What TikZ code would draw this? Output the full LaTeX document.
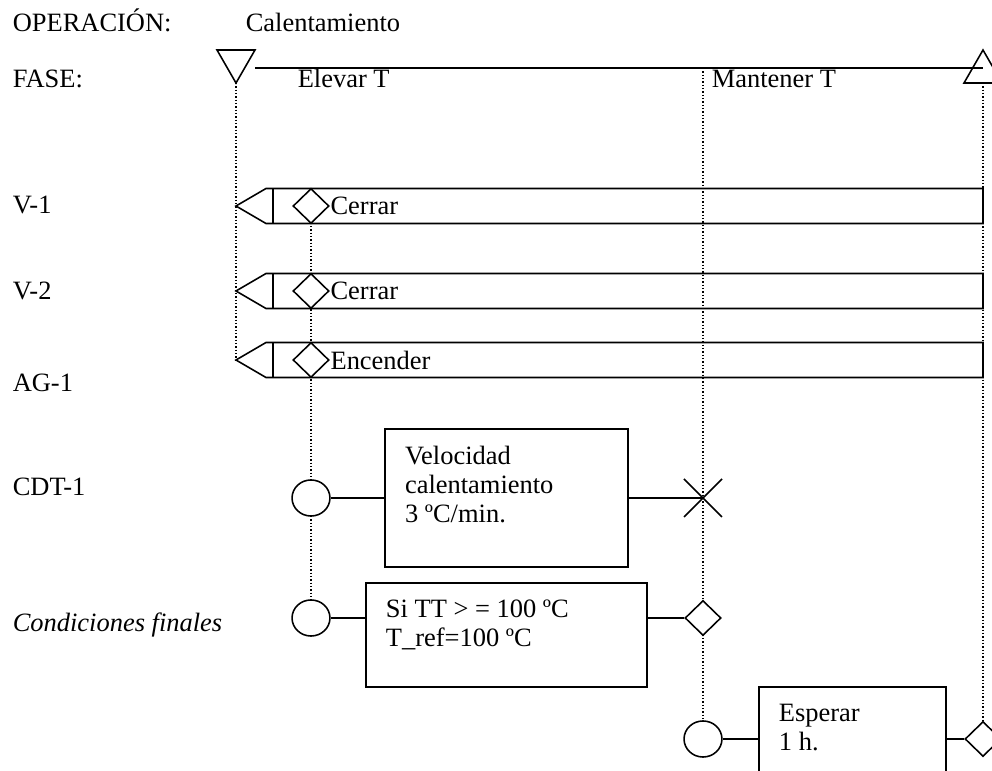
\documentclass[tikz,border=0pt]{standalone}
\usepackage{fontspec}
\setmainfont{Liberation Serif}
\usetikzlibrary{shapes.geometric}
\begin{document}
\begin{tikzpicture}[x=0.48pt,y=-0.48pt,line width=0.75pt,
  font=\fontsize{12.7}{14}\selectfont,
  guide/.style={densely dotted,line width=0.6pt},
  lbl/.style={anchor=base west,inner sep=0pt},
  cond/.style={diamond,draw,fill=white,inner sep=0pt,minimum width=17.3pt,minimum height=16.8pt},
  start/.style={ellipse,draw,fill=white,inner sep=0pt,minimum width=18.2pt,minimum height=17.3pt},
  actbox/.style={draw,rectangle,inner sep=0pt},
  txt/.style={anchor=north west,inner sep=0pt,align=left}]
\clip (0,0) rectangle (992,771);

\node[lbl] at (12,32) {OPERACIÓN:};
\node[lbl] at (245,32) {Calentamiento};
\node[lbl] at (12,88) {FASE:};
\node[lbl] at (297,88) {Elevar T};
\node[lbl] at (711,88) {Mantener T};
\node[lbl] at (12,214) {V-1};
\node[lbl] at (12,300) {V-2};
\node[lbl] at (12,392) {AG-1};
\node[lbl] at (12,496) {CDT-1};
\node[lbl] at (12,632) {\itshape Condiciones finales};

\coordinate (tl) at (236,83);
\coordinate (tr) at (983,83);
\coordinate (ph) at (703,68);
\draw[guide] (tl) -- (236,360);
\draw[guide] (311,206) -- (311,618);
\draw[guide] (ph) -- (703,739);
\draw[guide] (tr) -- (983,739);

\draw (217,50) -- (255,50) -- (tl) -- cycle;
\draw (964,83) -- (1002,83) -- (983,50) -- cycle;
\draw (255,68) -- (983,68);

\foreach \y/\n/\t in {206/a/Cerrar,291/b/Cerrar,360/c/Encender}{
  \draw (236,\y) -- (266,\y-17.5) -- (983,\y-17.5) -- (983,\y+17.5) -- (266,\y+17.5) -- cycle;
  \draw (273,\y-17.5) -- (273,\y+17.5);
  \node[cond] (d\n) at (311,\y) {};
  \node[anchor=west,inner sep=0pt] at (d\n.east) {\t};
}

\node[start] (s1) at (311,498) {};
\node[actbox,minimum width=116.6pt,minimum height=66.2pt] (sbox) at (506.5,498) {};
\node[txt] at ([shift={(20,17)}]sbox.north west) {Velocidad\\calentamiento\\3 ºC/min.};
\coordinate (x1) at (703,498);
\draw (s1) -- (sbox);
\draw (sbox.east) -- (x1);
\draw (x1) +(-19,-19) -- +(19,19) +(-19,19) -- +(19,-19);

\node[start] (s2) at (311,618) {};
\node[actbox,minimum width=134.9pt,minimum height=49.9pt] (cbox) at (506.5,635) {};
\node[txt] at ([shift={(20,17)}]cbox.north west) {Si TT > = 100 ºC\\T\_ref=100 ºC};
\node[cond] (e2) at (703,618) {};
\draw (s2.east) -- (s2.east -| cbox.west);
\draw (cbox.east |- e2) -- (e2.west);

\node[start] (s3) at (703,739) {};
\node[actbox,minimum width=89.8pt,minimum height=49.9pt] (wbox) at (852.5,739) {};
\node[txt] at ([shift={(20,17)}]wbox.north west) {Esperar\\1 h.};
\node[cond] (e3) at (983,739) {};
\draw (s3) -- (wbox);
\draw (wbox) -- (e3);

\end{tikzpicture}
\end{document}
